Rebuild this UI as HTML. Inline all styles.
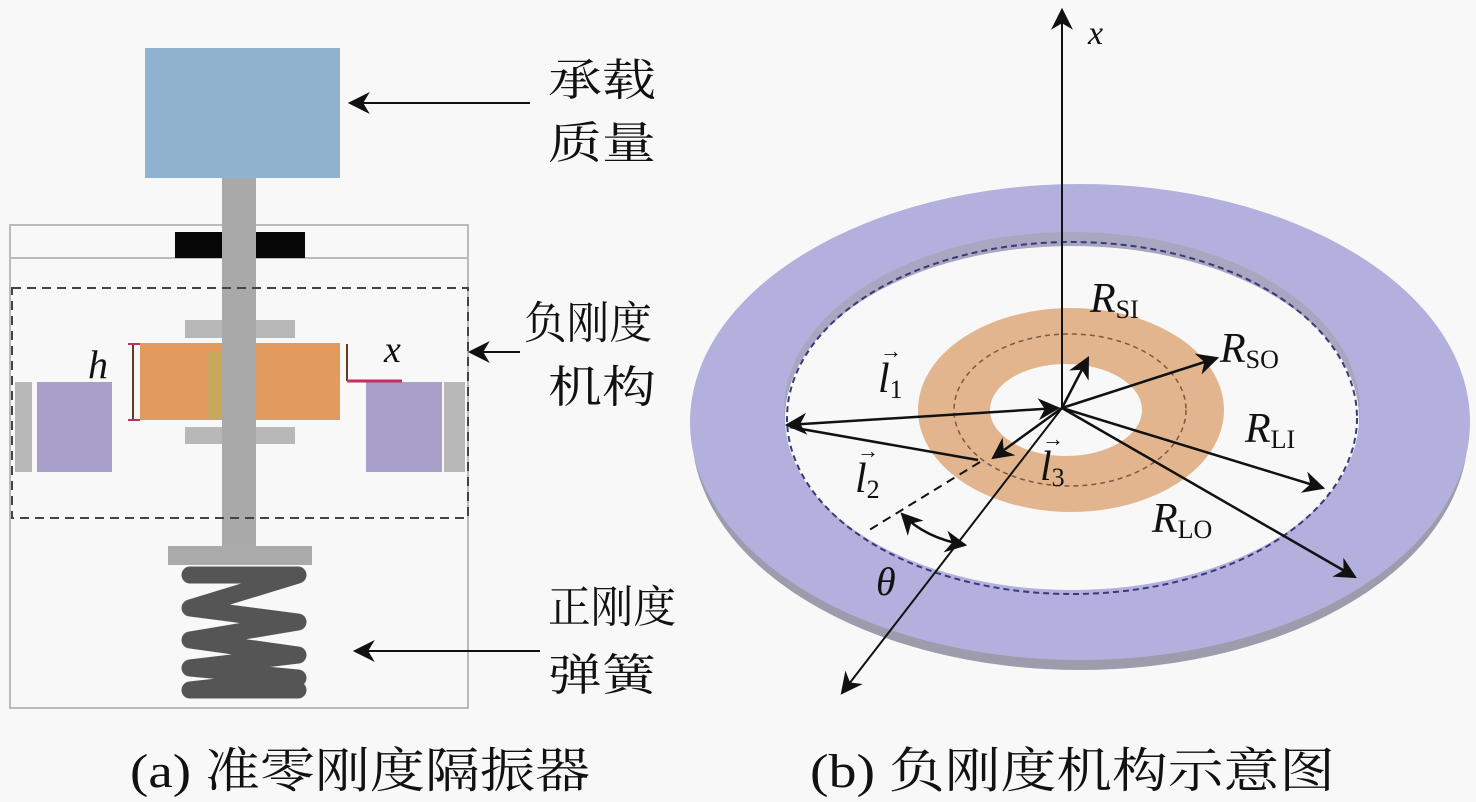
<!DOCTYPE html>
<html><head><meta charset="utf-8"><style>
body{margin:0;background:#f8f8f8;}
svg{display:block}
.cj{font-family:"Liberation Serif","Noto Serif CJK SC",serif;font-size:44px;fill:#111}
.cap{font-family:"Liberation Serif","Noto Serif CJK SC",serif;font-size:48px;fill:#111}
.it{font-family:"Liberation Serif",serif;font-style:italic;fill:#111}
.sub{font-family:"Liberation Serif",serif;font-style:normal;}
</style></head><body>
<svg width="1476" height="802" viewBox="0 0 1476 802" xmlns="http://www.w3.org/2000/svg">
<defs>
<marker id="ahb" viewBox="0 0 10 10" refX="9" refY="5" markerWidth="26" markerHeight="22" orient="auto-start-reverse" markerUnits="userSpaceOnUse">
<path d="M0,0 L10,5 L0,10 L3,5 z" fill="#111"/></marker>
</defs>
<rect width="1476" height="802" fill="#f8f8f8"/>
<!-- Left panel -->
<rect x="145" y="48" width="195" height="130" fill="#8fb3cf"/>
<rect x="10" y="225" width="458" height="483" fill="none" stroke="#bbb" stroke-width="2"/>
<line x1="10" y1="258" x2="468" y2="258" stroke="#bbb" stroke-width="2"/>
<rect x="175" y="232" width="130" height="26" fill="#070707"/>
<rect x="185" y="320" width="110" height="18" fill="#b8b8b8"/>
<rect x="185" y="427" width="110" height="17" fill="#b8b8b8"/>
<rect x="140" y="343" width="200" height="77" fill="#e39a5e"/>
<rect x="208" y="352" width="16" height="68" fill="#c8a85e"/>
<rect x="222" y="178" width="34" height="370" fill="#a9a9a9"/>
<rect x="12" y="288" width="456" height="230" fill="none" stroke="#444" stroke-width="2" stroke-dasharray="9,6"/>
<rect x="15" y="382" width="17" height="90" fill="#b8b8b8"/>
<rect x="37" y="382" width="75" height="90" fill="#a89fcb"/>
<rect x="366" y="382" width="76" height="90" fill="#a89fcb"/>
<rect x="444" y="382" width="21" height="90" fill="#b8b8b8"/>
<line x1="133" y1="344" x2="133" y2="420" stroke="#6b3a1c" stroke-width="2"/>
<line x1="128" y1="344" x2="140" y2="344" stroke="#c03060" stroke-width="2"/>
<line x1="128" y1="420" x2="140" y2="420" stroke="#c03060" stroke-width="2"/>
<line x1="347" y1="344" x2="347" y2="381" stroke="#6b3a1c" stroke-width="2"/>
<line x1="347" y1="381" x2="402" y2="381" stroke="#c03060" stroke-width="3"/>
<text class="it" x="88" y="378" font-size="40">h</text>
<text class="it" x="384" y="362" font-size="38">x</text>
<rect x="168" y="546" width="144" height="19" fill="#aaa"/>
<path d="M190,575 L298,575 L190,608 L298,622 L190,640 L298,655 L190,668 L298,678 L190,690 L298,690" fill="none" stroke="#555" stroke-width="17" stroke-linejoin="round" stroke-linecap="round"/>
<line x1="530" y1="103" x2="350" y2="103" stroke="#111" stroke-width="2" marker-end="url(#ahb)"/>
<line x1="520" y1="352" x2="470" y2="352" stroke="#111" stroke-width="2" marker-end="url(#ahb)"/>
<line x1="540" y1="651" x2="355" y2="651" stroke="#111" stroke-width="2" marker-end="url(#ahb)"/>
<text class="cj" x="548" y="95" textLength="108" lengthAdjust="spacingAndGlyphs">承载</text>
<text class="cj" x="548" y="158" textLength="108" lengthAdjust="spacingAndGlyphs">质量</text>
<text class="cj" x="524" y="338" textLength="128" lengthAdjust="spacingAndGlyphs">负刚度</text>
<text class="cj" x="548" y="402" textLength="108" lengthAdjust="spacingAndGlyphs">机构</text>
<text class="cj" x="548" y="622" textLength="128" lengthAdjust="spacingAndGlyphs">正刚度</text>
<text class="cj" x="548" y="690" textLength="108" lengthAdjust="spacingAndGlyphs">弹簧</text>
<text class="cap" x="130" y="787" textLength="460" lengthAdjust="spacingAndGlyphs">(a) 准零刚度隔振器</text>
<text class="cap" x="810" y="787" textLength="525" lengthAdjust="spacingAndGlyphs">(b) 负刚度机构示意图</text>
<!-- Right panel -->
<ellipse cx="1080" cy="432" rx="388" ry="238" fill="#9c9cac"/>
<ellipse cx="1080" cy="422" rx="390" ry="238" fill="#b4b0dd"/>
<ellipse cx="1072" cy="410" rx="288" ry="178" fill="#a8a6c0"/>
<ellipse cx="1072" cy="418" rx="287" ry="172" fill="#f8f8f8"/>
<ellipse cx="1072" cy="418" rx="285" ry="176" fill="none" stroke="#3a3a7a" stroke-width="2" stroke-dasharray="6,4"/>
<ellipse cx="1071" cy="410" rx="153" ry="102" fill="#e2b58e"/>
<ellipse cx="1066" cy="410" rx="76" ry="46" fill="#f8f8f8"/>
<ellipse cx="1070" cy="410" rx="116" ry="76" fill="none" stroke="#7a5a40" stroke-width="1.5" stroke-dasharray="5,4"/>
<line x1="1062" y1="408" x2="1062" y2="10" stroke="#111" stroke-width="2" marker-end="url(#ahb)"/>
<text class="it" x="1088" y="44" font-size="34">x</text>
<line x1="1062" y1="408" x2="842" y2="693" stroke="#111" stroke-width="2" marker-end="url(#ahb)"/>
<line x1="1062" y1="408" x2="1088" y2="358" stroke="#111" stroke-width="2.5" marker-end="url(#ahb)"/>
<line x1="1062" y1="408" x2="1217" y2="358" stroke="#111" stroke-width="2.5" marker-end="url(#ahb)"/>
<line x1="1062" y1="408" x2="1323" y2="488" stroke="#111" stroke-width="2.5" marker-end="url(#ahb)"/>
<line x1="1062" y1="408" x2="1355" y2="577" stroke="#111" stroke-width="2.5" marker-end="url(#ahb)"/>
<line x1="787" y1="425" x2="1058" y2="408" stroke="#111" stroke-width="2.5" marker-start="url(#ahb)" marker-end="url(#ahb)"/>
<line x1="790" y1="427" x2="978" y2="460" stroke="#111" stroke-width="2.5"/>
<line x1="1062" y1="408" x2="993" y2="458" stroke="#111" stroke-width="2.5" marker-end="url(#ahb)"/>
<line x1="980" y1="462" x2="866" y2="532" stroke="#111" stroke-width="2" stroke-dasharray="9,6"/>
<path d="M902,514 Q925,538 965,545" fill="none" stroke="#111" stroke-width="2.5" marker-start="url(#ahb)" marker-end="url(#ahb)"/>
<text class="it" x="1090" y="312" font-size="42">R<tspan class="sub" font-size="26" dy="6">SI</tspan></text>
<text class="it" x="1220" y="362" font-size="42">R<tspan class="sub" font-size="26" dy="6">SO</tspan></text>
<text class="it" x="1245" y="442" font-size="42">R<tspan class="sub" font-size="26" dy="6">LI</tspan></text>
<text class="it" x="1152" y="532" font-size="42">R<tspan class="sub" font-size="26" dy="6">LO</tspan></text>
<text class="it" x="878" y="392" font-size="42">l<tspan class="sub" font-size="26" dy="6">1</tspan></text>
<text class="it" x="880" y="358" font-size="22">→</text>
<text class="it" x="855" y="492" font-size="42">l<tspan class="sub" font-size="26" dy="6">2</tspan></text>
<text class="it" x="857" y="458" font-size="22">→</text>
<text class="it" x="1040" y="480" font-size="42">l<tspan class="sub" font-size="26" dy="6">3</tspan></text>
<text class="it" x="1042" y="446" font-size="22">→</text>
<text class="it" x="876" y="595" font-size="40" fill="#333366">θ</text>
</svg>
</body></html>
